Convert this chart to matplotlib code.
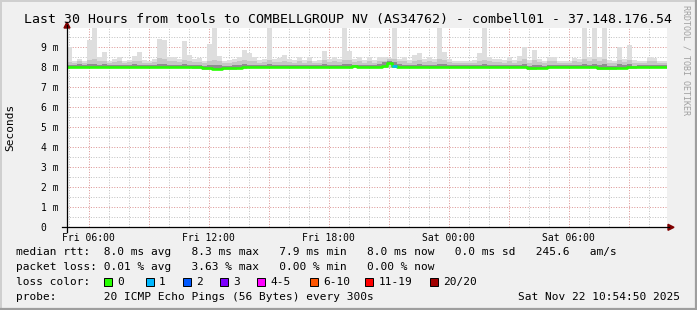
import numpy as np
import matplotlib
matplotlib.use("Agg")
import matplotlib.pyplot as plt
from matplotlib.patches import Rectangle, Polygon
from matplotlib.lines import Line2D

# ---- data: 15-minute bins, 30 hours, values in ms ----
T_START = 4 + 54 / 60 + 50 / 3600   # Fri 04:54:50 (hours since Fri 00:00)
STEP_H = 0.25

rtt_med = [
    8.03, 8.03, 8.02, 8.03, 8.02, 8.03, 8.04, 8.03, 8.03, 8.02,
    8.03, 8.04, 8.03, 8.03, 8.02, 8.03, 8.02, 8.02, 8.03, 8.02,
    8.02, 8.02, 8.02, 8.01, 8.01, 8.00, 8.00, 7.96, 7.94, 7.93,
    7.93, 7.94, 7.95, 7.96, 7.98, 8.00, 8.01, 8.01, 8.01, 8.02,
    8.01, 8.02, 8.01, 8.02, 8.01, 8.01, 8.02, 8.01, 8.02, 8.02,
    8.02, 8.01, 8.02, 8.02, 8.01, 8.02, 8.02, 8.05, 8.04, 8.02,
    8.02, 8.02, 8.03, 8.06, 8.20, 8.08, 8.02, 8.02, 8.01, 8.02,
    8.02, 8.02, 8.01, 8.02, 8.02, 8.02, 8.01, 8.02, 8.02, 8.02,
    8.02, 8.02, 8.02, 8.02, 8.02, 8.02, 8.02, 8.02, 8.02, 8.02,
    8.02, 8.02, 7.96, 7.95, 7.98, 7.98, 8.01, 8.02, 8.02, 8.02,
    8.02, 8.02, 8.02, 8.02, 8.01, 8.02, 7.97, 7.96, 7.96, 7.97,
    7.98, 7.98, 7.99, 7.99, 8.02, 8.02, 8.02, 8.02, 8.02, 8.02,
]
rtt_lo = [
    7.95, 7.94, 7.95, 7.94, 7.95, 7.94, 7.95, 7.95, 7.94, 7.95,
    7.95, 7.95, 7.94, 7.95, 7.94, 7.95, 7.94, 7.94, 7.95, 7.94,
    7.94, 7.94, 7.95, 7.94, 7.94, 7.93, 7.92, 7.89, 7.87, 7.86,
    7.86, 7.87, 7.88, 7.89, 7.91, 7.93, 7.94, 7.94, 7.94, 7.95,
    7.94, 7.95, 7.94, 7.95, 7.94, 7.94, 7.95, 7.94, 7.95, 7.95,
    7.95, 7.94, 7.95, 7.95, 7.94, 7.95, 7.95, 7.95, 7.94, 7.95,
    7.95, 7.95, 7.95, 7.95, 7.96, 7.94, 7.95, 7.95, 7.94, 7.95,
    7.95, 7.95, 7.94, 7.95, 7.95, 7.95, 7.94, 7.95, 7.95, 7.95,
    7.95, 7.95, 7.95, 7.95, 7.95, 7.95, 7.95, 7.95, 7.95, 7.95,
    7.95, 7.94, 7.88, 7.87, 7.90, 7.91, 7.94, 7.95, 7.95, 7.95,
    7.95, 7.95, 7.95, 7.95, 7.94, 7.95, 7.89, 7.88, 7.88, 7.89,
    7.90, 7.90, 7.91, 7.92, 7.95, 7.95, 7.95, 7.95, 7.95, 7.95,
]
rtt_q75 = [
    8.12, 8.10, 8.14, 8.10, 8.15, 8.16, 8.12, 8.14, 8.10, 8.12,
    8.13, 8.10, 8.12, 8.14, 8.13, 8.10, 8.10, 8.12, 8.18, 8.16,
    8.13, 8.12, 8.11, 8.14, 8.12, 8.11, 8.10, 8.08, 8.10, 8.12,
    8.10, 8.08, 8.08, 8.10, 8.12, 8.14, 8.13, 8.12, 8.10, 8.11,
    8.15, 8.11, 8.12, 8.13, 8.11, 8.10, 8.13, 8.10, 8.12, 8.10,
    8.10, 8.14, 8.11, 8.13, 8.11, 8.15, 8.14, 8.12, 8.13, 8.10,
    8.12, 8.10, 8.18, 8.25, 8.32, 8.28, 8.14, 8.12, 8.10, 8.12,
    8.14, 8.11, 8.12, 8.11, 8.16, 8.14, 8.11, 8.10, 8.10, 8.10,
    8.10, 8.10, 8.12, 8.15, 8.12, 8.11, 8.11, 8.10, 8.12, 8.10,
    8.12, 8.15, 8.08, 8.12, 8.10, 8.08, 8.12, 8.12, 8.10, 8.10,
    8.10, 8.12, 8.11, 8.16, 8.12, 8.16, 8.10, 8.14, 8.08, 8.08,
    8.14, 8.10, 8.14, 8.08, 8.10, 8.10, 8.12, 8.12, 8.10, 8.10,
]
rtt_q90 = [
    8.25, 8.20, 8.30, 8.20, 8.35, 8.40, 8.30, 8.30, 8.20, 8.25,
    8.30, 8.20, 8.25, 8.30, 8.30, 8.20, 8.20, 8.25, 8.45, 8.40,
    8.30, 8.30, 8.25, 8.35, 8.30, 8.25, 8.25, 8.20, 8.30, 8.35,
    8.30, 8.20, 8.20, 8.25, 8.30, 8.35, 8.30, 8.30, 8.20, 8.25,
    8.35, 8.25, 8.25, 8.30, 8.25, 8.20, 8.30, 8.20, 8.30, 8.20,
    8.20, 8.35, 8.25, 8.30, 8.25, 8.35, 8.35, 8.25, 8.30, 8.20,
    8.30, 8.20, 8.30, 8.30, 8.40, 8.40, 8.30, 8.30, 8.20, 8.30,
    8.35, 8.25, 8.30, 8.25, 8.40, 8.35, 8.25, 8.20, 8.20, 8.20,
    8.20, 8.20, 8.30, 8.35, 8.30, 8.25, 8.25, 8.20, 8.30, 8.20,
    8.30, 8.40, 8.20, 8.35, 8.25, 8.20, 8.30, 8.30, 8.20, 8.20,
    8.20, 8.30, 8.25, 8.40, 8.30, 8.40, 8.30, 8.40, 8.20, 8.20,
    8.35, 8.25, 8.35, 8.20, 8.20, 8.20, 8.30, 8.30, 8.20, 8.20,
]
rtt_max = [
    9.00, 8.30, 8.40, 8.30, 9.35, 10.5, 8.50, 8.75, 8.30, 8.40,
    8.50, 8.30, 8.35, 8.55, 8.75, 8.35, 8.30, 8.40, 9.40, 9.35,
    8.50, 8.50, 8.40, 9.30, 8.60, 8.40, 8.45, 8.30, 9.15, 10.5,
    8.55, 8.30, 8.35, 8.40, 8.50, 8.85, 8.70, 8.50, 8.35, 8.40,
    10.5, 8.40, 8.45, 8.60, 8.40, 8.35, 8.50, 8.35, 8.50, 8.30,
    8.35, 8.80, 8.40, 8.50, 8.40, 10.5, 8.80, 8.40, 8.50, 8.35,
    8.50, 8.35, 8.50, 8.50, 8.45, 10.5, 8.40, 8.50, 8.35, 8.60,
    8.70, 8.40, 8.50, 8.40, 10.5, 8.75, 8.40, 8.30, 8.30, 8.30,
    8.30, 8.35, 8.70, 10.5, 8.50, 8.40, 8.40, 8.35, 8.50, 8.35,
    8.55, 9.00, 8.35, 8.85, 8.40, 8.30, 8.50, 8.50, 8.30, 8.30,
    8.30, 8.45, 8.40, 10.5, 8.50, 10.5, 8.50, 10.5, 8.35, 8.30,
    9.00, 8.40, 9.10, 8.35, 8.30, 8.30, 8.50, 8.45, 8.30, 8.30,
]
lossy_bins = [65]
lossy_count = [1]

loss_labels = ["0", "1", "2", "3", "4-5", "6-10", "11-19", "20/20"]
loss_colors = ["#26ff00", "#00b8ff", "#0059ff", "#7e00ff", "#ff00ff",
               "#ff5500", "#ff0000", "#a10000"]

x_ticks = [6, 12, 18, 24, 30]
x_labels = ["Fri 06:00", "Fri 12:00", "Fri 18:00", "Sat 00:00", "Sat 06:00"]
y_ticks = list(range(10))
y_labels = ["0  "] + [f"{v} m" for v in range(1, 10)]

title = ("Last 30 Hours from tools to COMBELLGROUP NV (AS34762) - "
         "combell01 - 37.148.176.54")
legend_lines = [
    "median rtt:  8.0 ms avg   8.3 ms max   7.9 ms min   8.0 ms now   "
    "0.0 ms sd   245.6   am/s",
    "packet loss: 0.01 % avg   3.63 % max   0.00 % min   0.00 % now",
    "loss color:",
    "probe:       20 ICMP Echo Pings (56 Bytes) every 300s",
]
stamp = "Sat Nov 22 10:54:50 2025"

# ---- layout (pixels) ----
W, H = 697, 310
MONO = "DejaVu Sans Mono"


def fx(x):
    return x / W


def fy(y):
    return 1 - y / H


fig = plt.figure(figsize=(W / 100, H / 100), dpi=100, facecolor="#f0f0f0")

# 3D frame
fig.add_artist(Line2D([fx(0.5), fx(0.5)], [fy(0), fy(H)], color="#cfcfcf",
                      lw=1.4, transform=fig.transFigure))
fig.add_artist(Line2D([fx(0), fx(W)], [fy(0.5), fy(0.5)], color="#cfcfcf",
                      lw=1.4, transform=fig.transFigure))
fig.add_artist(Line2D([fx(W - 1), fx(W - 1)], [fy(0), fy(H)], color="#9e9e9e",
                      lw=1.6, transform=fig.transFigure))
fig.add_artist(Line2D([fx(0), fx(W)], [fy(H - 1), fy(H - 1)], color="#9e9e9e",
                      lw=1.6, transform=fig.transFigure))

PX0, PX1, PY0, PY1 = 67, 667, 28, 227.3
ax = fig.add_axes([fx(PX0), fy(PY1), (PX1 - PX0) / W, (PY1 - PY0) / H])
ax.set_facecolor("white")
t0 = T_START
ax.set_xlim(t0, t0 + 30)
ax.set_ylim(0, (PY1 - PY0) / 20.0)
for s in ax.spines.values():
    s.set_visible(False)

# grid (rrdtool style dotted lines)
GRID = dict(lw=0.72, ls=(0, (1, 1.6)), zorder=0.5)
for h in np.arange(5, 35):
    ax.axvline(h, color="#dc9696" if h % 3 == 0 else "#c2c2c2", **GRID)
for v in np.arange(0.5, 10, 0.5):
    ax.axhline(v, color="#dc9696" if float(v).is_integer() else "#c2c2c2",
               **GRID)

# smoke
n = len(rtt_med)
t = t0 + STEP_H * np.arange(n + 1)


def ext(a):
    return np.append(np.asarray(a, float), a[-1])


ax.fill_between(t, ext(rtt_lo), ext(rtt_max), step="post",
                color="#dedede", lw=0, zorder=1)
ax.fill_between(t, ext(rtt_lo), ext(rtt_q90), step="post",
                color="#c6c6c6", lw=0, zorder=1.1)
ax.fill_between(t, ext(rtt_med), ext(rtt_q75), step="post",
                color="#8e8e8e", lw=0, zorder=1.2)

# median line coloured by loss
ax.step(t, ext(rtt_med), where="post", color=loss_colors[0], lw=1.9,
        zorder=2)
for b, c in zip(lossy_bins, lossy_count):
    ax.hlines(rtt_med[b], t[b], t[b + 1], color=loss_colors[c], lw=1.9,
              zorder=2.1)

# ticks
ax.set_xticks(x_ticks, x_labels)
ax.set_yticks(y_ticks, y_labels)
ax.tick_params(axis="both", length=0, labelsize=7)
ax.tick_params(axis="x", pad=4)
ax.tick_params(axis="y", pad=6)
for lab in ax.get_xticklabels() + ax.get_yticklabels():
    lab.set_fontfamily(MONO)

# axes with arrows
fig.add_artist(Line2D([fx(62), fx(669)], [fy(PY1), fy(PY1)], color="black",
                      lw=0.9, transform=fig.transFigure))
fig.add_artist(Line2D([fx(PX0), fx(PX0)], [fy(232), fy(25)], color="black",
                      lw=0.9, transform=fig.transFigure))
fig.add_artist(Polygon([(fx(668), fy(PY1 - 3)), (fx(668), fy(PY1 + 3)),
                        (fx(674), fy(PY1))], closed=True, color="#800000",
                       transform=fig.transFigure))
fig.add_artist(Polygon([(fx(PX0 - 3), fy(28)), (fx(PX0 + 3), fy(28)),
                        (fx(PX0), fy(22))], closed=True, color="#800000",
                       transform=fig.transFigure))

# texts
fig.text(0.5, fy(19.5), title, ha="center", va="center", fontsize=9.5,
         family=MONO)
fig.text(fx(10.5), fy(127.5), "Seconds", rotation=90, ha="center",
         va="center", fontsize=8, family=MONO)
fig.text(fx(686), fy(5), "RRDTOOL / TOBI OETIKER", rotation=270,
         ha="center", va="top", fontsize=6, family=MONO, color="#a0a0a0")

legend_y = [252, 267.5, 282, 297]
for s, y in zip(legend_lines, legend_y):
    fig.text(fx(16), fy(y), s, ha="left", va="center", fontsize=8,
             family=MONO)
fig.text(fx(680), fy(297), stamp, ha="right", va="center", fontsize=8,
         family=MONO)

box_x = [104, 145.5, 182.5, 220, 257, 310, 365, 430]
for bx, lab, col in zip(box_x, loss_labels, loss_colors):
    fig.add_artist(Rectangle((fx(bx), fy(286)), 8 / W, 8 / H,
                             facecolor=col, edgecolor="black", lw=0.7,
                             transform=fig.transFigure))
    fig.text(fx(bx + 13.5), fy(282), lab, ha="left", va="center",
             fontsize=8, family=MONO)

fig.savefig("out.png", dpi=100, facecolor=fig.get_facecolor())
